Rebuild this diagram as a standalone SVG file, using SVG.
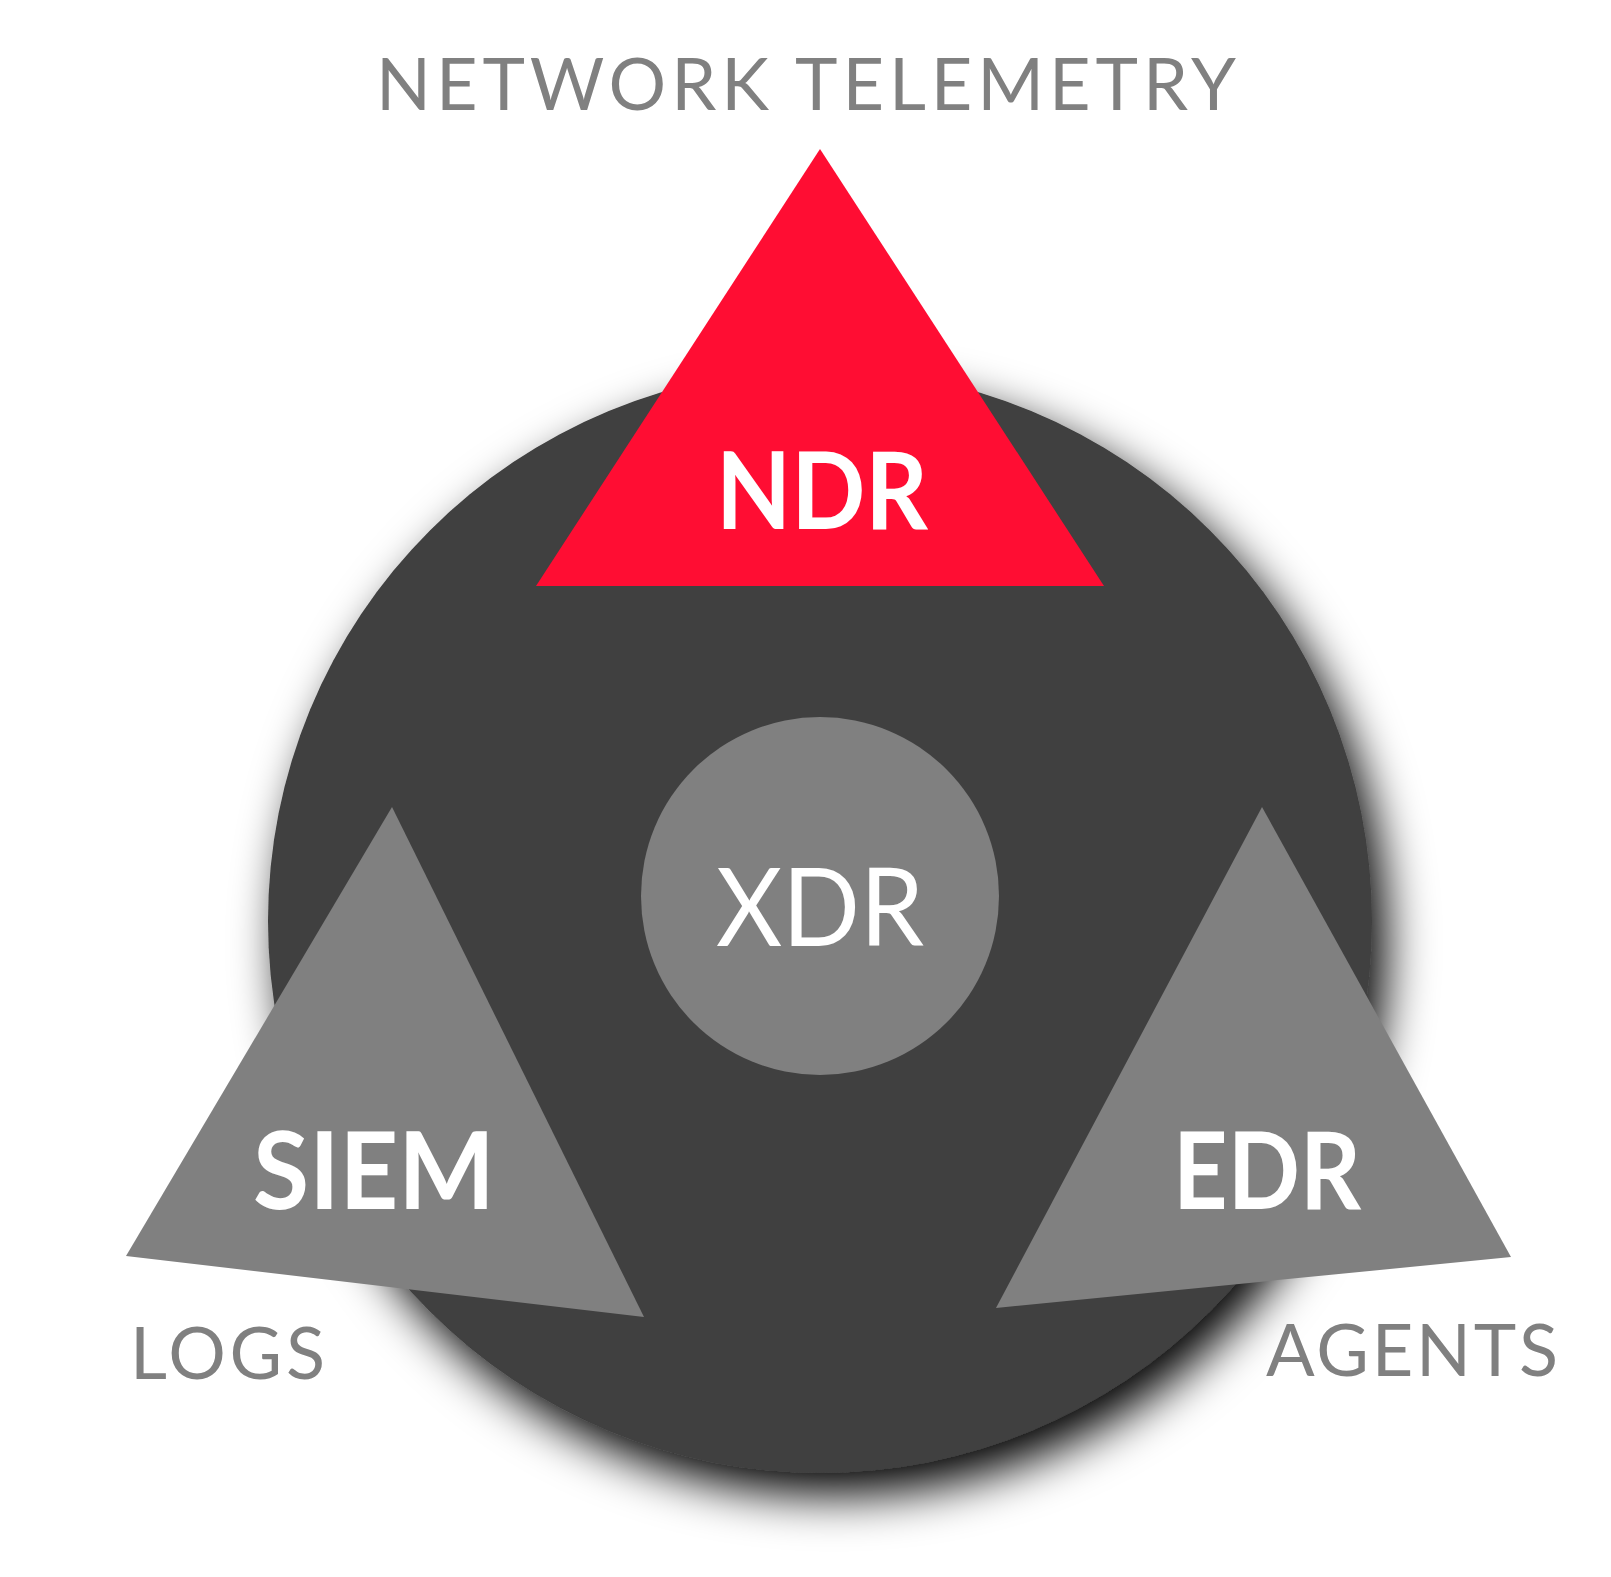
<svg xmlns="http://www.w3.org/2000/svg" width="1611" height="1577" viewBox="0 0 1611 1577">
<style>
.lbl{font-family:Lato,"Open Sans","Liberation Sans",sans-serif;fill:#808080;font-size:72px}
.big{font-family:Lato,"Open Sans","Liberation Sans",sans-serif;fill:#fff;font-size:108px;text-anchor:middle}
</style>
<defs>
<filter id="sh" x="-25%" y="-25%" width="150%" height="150%">
<feDropShadow dx="14" dy="22" stdDeviation="24" flood-color="#000" flood-opacity="1"/>
</filter>
</defs>
<rect width="1611" height="1577" fill="#fff"/>
<g id="base"><circle cx="820" cy="921" r="552" fill="#3f3f3f" filter="url(#sh)"/></g>
<g id="ndr"><polygon points="820,149 536,586 1104,586" fill="#ff0d33"/><text class="big" x="822" y="529" font-weight="bold" textLength="212" lengthAdjust="spacingAndGlyphs">NDR</text></g>
<g id="xdr"><circle cx="820" cy="896" r="179" fill="#808080"/><text class="big" x="820" y="946" textLength="208" lengthAdjust="spacingAndGlyphs">XDR</text></g>
<g id="siem"><polygon points="392,807 126,1256 644,1317" fill="#808080"/><text class="big" x="374" y="1209" font-weight="bold" textLength="242" lengthAdjust="spacingAndGlyphs">SIEM</text></g>
<g id="edr"><polygon points="1262,807 1511,1257 996,1308" fill="#808080"/><text class="big" x="1267" y="1209" font-weight="bold" textLength="188" lengthAdjust="spacingAndGlyphs">EDR</text></g>
<g id="labels">
<text class="lbl" x="376" y="110" textLength="860" lengthAdjust="spacing">NETWORK TELEMETRY</text>
<text class="lbl" x="130" y="1379" textLength="195" lengthAdjust="spacing">LOGS</text>
<text class="lbl" x="1266" y="1376" textLength="292" lengthAdjust="spacing">AGENTS</text>
</g>
<g id="connectors"/>
</svg>
